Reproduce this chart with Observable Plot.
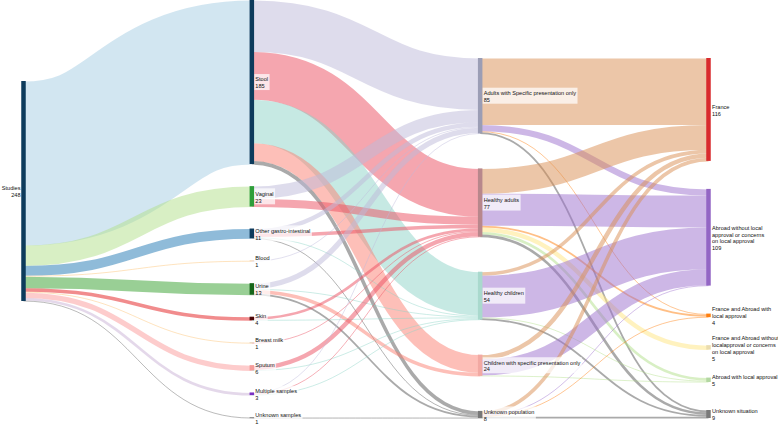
<!DOCTYPE html>
<html><head><meta charset="utf-8">
<script src="https://cdn.jsdelivr.net/npm/d3@7"></script>
<script src="https://cdn.jsdelivr.net/npm/@observablehq/plot@0.6"></script>
<style>body{margin:0;background:#fff}</style>
</head><body><div id="chart"></div>
<script>
// ---------- data ----------
const rootName = "Studies";
const sampleNames = ["Stool","Vaginal","Other gastro-intestinal","Blood","Urine","Skin","Breast milk","Sputum","Multiple samples","Unknown samples"];
const sampleCounts = [185,23,11,1,13,4,1,6,3,1];
const populationNames = ["Adults with Specific presentation only","Healthy adults","Healthy children","Children with specific presentation only","Unknown population"];
// rows: samples, columns: populations
const sampleToPopulation = [
  [58,54,49,20,4],
  [14,9,0,0,0],
  [5,4,1,0,1],
  [1,0,0,0,0],
  [6,0,1,4,2],
  [0,3,1,0,0],
  [0,1,0,0,0],
  [0,5,1,0,0],
  [1,1,1,0,0],
  [0,0,0,0,1]
];
const approvalNames = ["France","Abroad without local approval or concerns on local approval","France and Abroad with local approval","France and Abroad without localapproval or concerns on local approval","Abroad with local approval","Unknown situation"];
const approvalLabels = ["France","Abroad without local\napproval or concerns\non local approval","France and Abroad with\nlocal approval","France and Abroad without\nlocalapproval or concerns\non local approval","Abroad with local approval","Unknown situation"];
// rows: populations, columns: approvals
const populationToApproval = [
  [75,7,1,0,0,2],
  [28,36,2,5,3,3],
  [4,47,0,0,1,2],
  [5,18,0,0,1,0],
  [4,1,1,0,0,2]
];

// ---------- styles ----------
const rootColor = "#0d3b5c";
const sampleNodeColors = ["#0d3b5c","#2e9e3a","#0d3b5c","#f3d9bd","#17661a","#4d0606","#e6d3bd","#f59c9a","#7a2fc4","#8a8a8a"];
const sampleLinkColors = ["#a6cee3","#b2df8a","#1f78b4","#fdbf6f","#33a02c","#e31a1c","#fdbf6f","#fb9a99","#cab2d6","#666666"];
const populationNodeColors = ["#9b9db5","#b8878c","#a9d9cd","#f2a9a3","#777777"];
const populationLinkColors = ["#bebada","#eb4d5f","#8dd3c7","#fb8072","#555555"];
const approvalNodeColors = ["#d92b2e","#9366c4","#ff7f0e","#eadcae","#b3d7a2","#7a7a7a"];
const approvalLinkColors = ["#d98e52","#9c6fcd","#ff7f0e","#ffe680","#b2df8a","#555555"];

// ---------- graph ----------
const nodes = [];
const root = {name: rootName, label: rootName, layer: 0, color: rootColor};
nodes.push(root);
const sNodes = sampleNames.map((n,i)=>({name:n,label:n,layer:1,color:sampleNodeColors[i],lcolor:sampleLinkColors[i]}));
const pNodes = populationNames.map((n,i)=>({name:n,label:n,layer:2,color:populationNodeColors[i],lcolor:populationLinkColors[i]}));
const aNodes = approvalNames.map((n,i)=>({name:n,label:approvalLabels[i],layer:3,color:approvalNodeColors[i],lcolor:approvalLinkColors[i]}));
nodes.push(...sNodes, ...pNodes, ...aNodes);
const links = [];
sNodes.forEach((s,i)=>links.push({source:root,target:s,value:sampleCounts[i]}));
sampleToPopulation.forEach((row,i)=>row.forEach((v,j)=>{ if(v>0) links.push({source:sNodes[i],target:pNodes[j],value:v}); }));
populationToApproval.forEach((row,i)=>row.forEach((v,j)=>{ if(v>0) links.push({source:pNodes[i],target:aNodes[j],value:v}); }));
links.forEach(l=>l.color=l.target.lcolor);

// ---------- sankey layout (classic relaxation, node order kept, per-column padding) ----------
function layout(nodes, links, H, pads, ky, iterations){
  for (const n of nodes){ n.sourceLinks=[]; n.targetLinks=[]; }
  for (const l of links){ l.source.sourceLinks.push(l); l.target.targetLinks.push(l); }
  for (const n of nodes) n.value = Math.max(d3.sum(n.sourceLinks,l=>l.value), d3.sum(n.targetLinks,l=>l.value));
  const columns = d3.range(d3.max(nodes,n=>n.layer)+1).map(i=>nodes.filter(n=>n.layer===i));
  for (const col of columns) col.forEach((n,i)=>{ n.y=i; n.dy=n.value*ky; });
  for (const l of links) l.width = l.value*ky;
  // single root column: centred on the height of the densest column at minimum spacing
  const need = d3.sum(columns[1],n=>n.dy)+(columns[1].length-1)*18;
  const center = n => n.y + n.dy/2;
  function resolve(){
    columns.forEach((col,ci)=>{
      const py = pads[ci];
      if (ci===0){ col[0].y = (need - col[0].dy)/2; return; }
      let y0=0, n;
      for (n of col){ const d=y0-n.y; if(d>0) n.y+=d; y0=n.y+n.dy+py; }
      let d=y0-py-H;
      if (d>0){
        y0 = (n.y -= d);
        for (let i=col.length-2;i>=0;--i){ const m=col[i]; const e=m.y+m.dy+py-y0; if(e>0) m.y-=e; y0=m.y; }
      }
    });
  }
  resolve();
  for (let alpha=1; iterations>0; --iterations){
    alpha*=0.99;
    for (const col of columns.slice(1).reverse()) for (const n of col) if (n.sourceLinks.length){
      const y=d3.sum(n.sourceLinks,l=>center(l.target)*l.value)/d3.sum(n.sourceLinks,l=>l.value);
      n.y += (y-center(n))*alpha;
    }
    resolve();
    for (const col of columns.slice(1)) for (const n of col) if (n.targetLinks.length){
      const y=d3.sum(n.targetLinks,l=>center(l.source)*l.value)/d3.sum(n.targetLinks,l=>l.value);
      n.y += (y-center(n))*alpha;
    }
    resolve();
  }
  for (const n of nodes){
    n.y0=n.y; n.y1=n.y+n.dy;
    n.sourceLinks.sort((a,b)=>a.target.y-b.target.y);
    n.targetLinks.sort((a,b)=>a.source.y-b.source.y);
  }
  for (const n of nodes){
    let a=n.y0,b=n.y0;
    for (const l of n.sourceLinks){ l.ys=a+l.width/2; a+=l.width; }
    for (const l of n.targetLinks){ l.yt=b+l.width/2; b+=l.width; }
  }
}
const H = 418;
const total = d3.sum(sampleCounts);
const pxPerStudy = 220/total;
layout(nodes, links, H, [18, 22, 35, 28], pxPerStudy, 32);

// ---------- labels ----------
const font = "Liberation Sans, Arial, Helvetica, sans-serif";
const fontSize = 5.6, lineH = 7;
const ctx = document.createElement("canvas").getContext("2d");
ctx.font = `${fontSize}px ${font}`;
const x0px = 23, x3px = 708, pxPerLayer = (x3px - x0px)/3;
for (const n of nodes){
  n.text = n.label + "\n" + n.value;
  const lines = n.text.split("\n");
  n.tw = d3.max(lines, s=>ctx.measureText(s).width);
  n.nl = lines.length;
  n.cy = (n.y0+n.y1)/2;
  if (n.layer===0){ n.bx1 = n.layer - (n.tw+5)/pxPerLayer; n.bx2 = n.layer - 2.5/pxPerLayer; }
  else { n.bx1 = n.layer + 3/pxPerLayer; n.bx2 = n.layer + (n.tw+5.5)/pxPerLayer; }
  n.by1 = n.cy - n.nl*lineH/2 - 1; n.by2 = n.cy + n.nl*lineH/2 + 1;
}

const chart = Plot.plot({
  width: 778, height: 424,
  marginTop: 0, marginBottom: 0, marginLeft: 0, marginRight: 0,
  x: {domain: [0,3], range: [x0px,x3px], axis: null},
  y: {domain: [0,H], range: [0,H], axis: null},
  style: {fontFamily: font, background: "white"},
  marks: [
    Plot.link(links, {x1: d=>d.source.layer, y1: d=>d.ys, x2: d=>d.target.layer, y2: d=>d.yt,
      curve: "bump-x", stroke: d=>d.color, strokeWidth: d=>Math.max(0.6,d.width), strokeOpacity: 0.5}),
    Plot.ruleX(nodes, {x: "layer", y1: "y0", y2: d=>Math.max(d.y1, d.y0+1), stroke: "color", strokeWidth: 4.5}),
    Plot.rect(nodes.filter(n=>n.layer>0), {x1: "bx1", x2: "bx2", y1: "by1", y2: "by2", fill: "white", fillOpacity: 0.72}),
    Plot.text(nodes.filter(n=>n.layer===0), {x: "layer", y: "cy", text: "text",
      textAnchor: "end", dx: -3, fontSize, lineHeight: lineH/fontSize, fill: "#111"}),
    Plot.text(nodes.filter(n=>n.layer>0), {x: "layer", y: "cy", text: "text",
      textAnchor: "start", dx: 3.5, fontSize, lineHeight: lineH/fontSize, fill: "#111"})
  ]
});
document.getElementById("chart").appendChild(chart);
</script>
</body></html>
